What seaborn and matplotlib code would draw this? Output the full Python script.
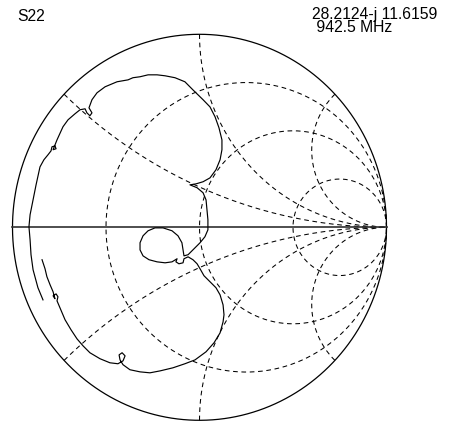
import numpy as np
import pandas as pd
import seaborn as sns
import matplotlib.pyplot as plt

# =========================
# DATA
# =========================
# S22 trace, reflection coefficient: real and imaginary part
gamma_re = [-0.837, -0.864, -0.890, -0.901, -0.906, -0.912, -0.906, -0.890, -0.874, -0.853,
            -0.832, -0.810, -0.794, -0.789, -0.773, -0.767, -0.783, -0.762, -0.730, -0.703,
            -0.666, -0.639, -0.612, -0.602, -0.586, -0.575, -0.591, -0.575, -0.548, -0.505,
            -0.441, -0.382, -0.356, -0.318, -0.275, -0.227, -0.184, -0.131, -0.078, -0.035,
            0.019, 0.056, 0.083, 0.104, 0.120, 0.120, 0.110, 0.088, 0.056, 0.019,
            -0.019, -0.051, -0.013, 0.019, 0.035, 0.040, 0.045, 0.045, 0.029, 0.003,
            -0.035, -0.061, -0.083, -0.088, -0.094, -0.115, -0.147, -0.195, -0.238, -0.275,
            -0.302, -0.318, -0.318, -0.302, -0.270, -0.227, -0.184, -0.147, -0.120, -0.126,
            -0.110, -0.088, -0.083, -0.061, -0.035, -0.013, 0.003, 0.024, 0.056, 0.088,
            0.110, 0.126, 0.131, 0.126, 0.110, 0.078, 0.035, -0.024, -0.078, -0.142,
            -0.211, -0.265, -0.318, -0.372, -0.409, -0.425, -0.430, -0.414, -0.398, -0.409,
            -0.436, -0.479, -0.532, -0.586, -0.623, -0.655, -0.687, -0.719, -0.746, -0.762,
            -0.757, -0.767, -0.783, -0.773, -0.783, -0.799, -0.816, -0.826, -0.842]
gamma_im = [-0.376, -0.313, -0.220, -0.142, -0.065, 0.003, 0.065, 0.142, 0.220, 0.313,
            0.350, 0.376, 0.396, 0.417, 0.422, 0.407, 0.402, 0.453, 0.521, 0.557,
            0.588, 0.609, 0.614, 0.593, 0.578, 0.593, 0.619, 0.661, 0.697, 0.728,
            0.754, 0.764, 0.775, 0.780, 0.790, 0.790, 0.785, 0.775, 0.754, 0.712,
            0.661, 0.624, 0.573, 0.516, 0.453, 0.402, 0.350, 0.298, 0.256, 0.236,
            0.225, 0.220, 0.205, 0.179, 0.142, 0.091, 0.039, -0.013, -0.049, -0.080,
            -0.117, -0.142, -0.148, -0.117, -0.080, -0.044, -0.018, -0.003, -0.003, -0.018,
            -0.044, -0.080, -0.117, -0.148, -0.168, -0.179, -0.184, -0.179, -0.163, -0.179,
            -0.189, -0.184, -0.163, -0.153, -0.168, -0.189, -0.215, -0.251, -0.282, -0.313,
            -0.350, -0.402, -0.453, -0.490, -0.547, -0.598, -0.645, -0.687, -0.707, -0.728,
            -0.744, -0.754, -0.749, -0.738, -0.712, -0.687, -0.661, -0.650, -0.666, -0.692,
            -0.707, -0.702, -0.681, -0.650, -0.614, -0.578, -0.531, -0.479, -0.417, -0.381,
            -0.360, -0.345, -0.355, -0.370, -0.334, -0.298, -0.256, -0.215, -0.168]

# Smith grid: constant resistance circles and constant reactance arcs
r_values = [1/3, 1, 3]
x_values = [0.4, 1, 2.5]

title_text = "S22"
marker_z = "28.2124-j 11.6159"
marker_freq = " 942.5 MHz"

trace = pd.DataFrame({"re": gamma_re, "im": gamma_im})

# =========================
# FIGURE
# =========================
W, H = 454, 423
fig = plt.figure(figsize=(W / 100, H / 100), dpi=100)
cx, cy, rx, ry = 199.5, 227.3, 187, 193   # circle centre / radii in pixels
lim = 1.03
ax = fig.add_axes([(cx - lim * rx) / W, (H - cy - lim * ry) / H,
                   2 * lim * rx / W, 2 * lim * ry / H])

dash = dict(color="black", lw=0.75, linestyle=(0, (4.5, 3.5)))

t = np.linspace(0, 2 * np.pi, 600)
for r in r_values:
    c, rad = r / (1 + r), 1 / (1 + r)
    ax.plot(c + rad * np.cos(t), rad * np.sin(t), **dash)

rr = np.concatenate([[0], np.geomspace(1e-3, 1e4, 1500)])
for x in x_values:
    for sgn in (1, -1):
        z = rr + 1j * sgn * x
        g = (z - 1) / (z + 1)
        ax.plot(g.real, g.imag, **dash)

# outer circle and real axis
ax.plot(np.cos(t), np.sin(t), color="black", lw=0.9)
ax.plot([-1, 1], [0, 0], color="#303030", lw=1.2)

# trace
sns.lineplot(data=trace, x="re", y="im", sort=False, estimator=None,
             color="black", lw=0.85, ax=ax)
ax.set_xlim(-lim, lim)
ax.set_ylim(-lim, lim)
ax.axis("off")

font = dict(family=["Liberation Sans", "DejaVu Sans"], fontsize=11.3, color="black")
fig.text(17 / W, 1 - 21 / H, title_text, va="baseline", ha="left", **font)
# marker readout as one two-line block
fig.text(312 / W, 1 - 6.5 / H, marker_z + "\n" + marker_freq, va="top", ha="left",
         linespacing=0.9, **font)

fig.savefig("out.png", dpi=100, facecolor="white")
